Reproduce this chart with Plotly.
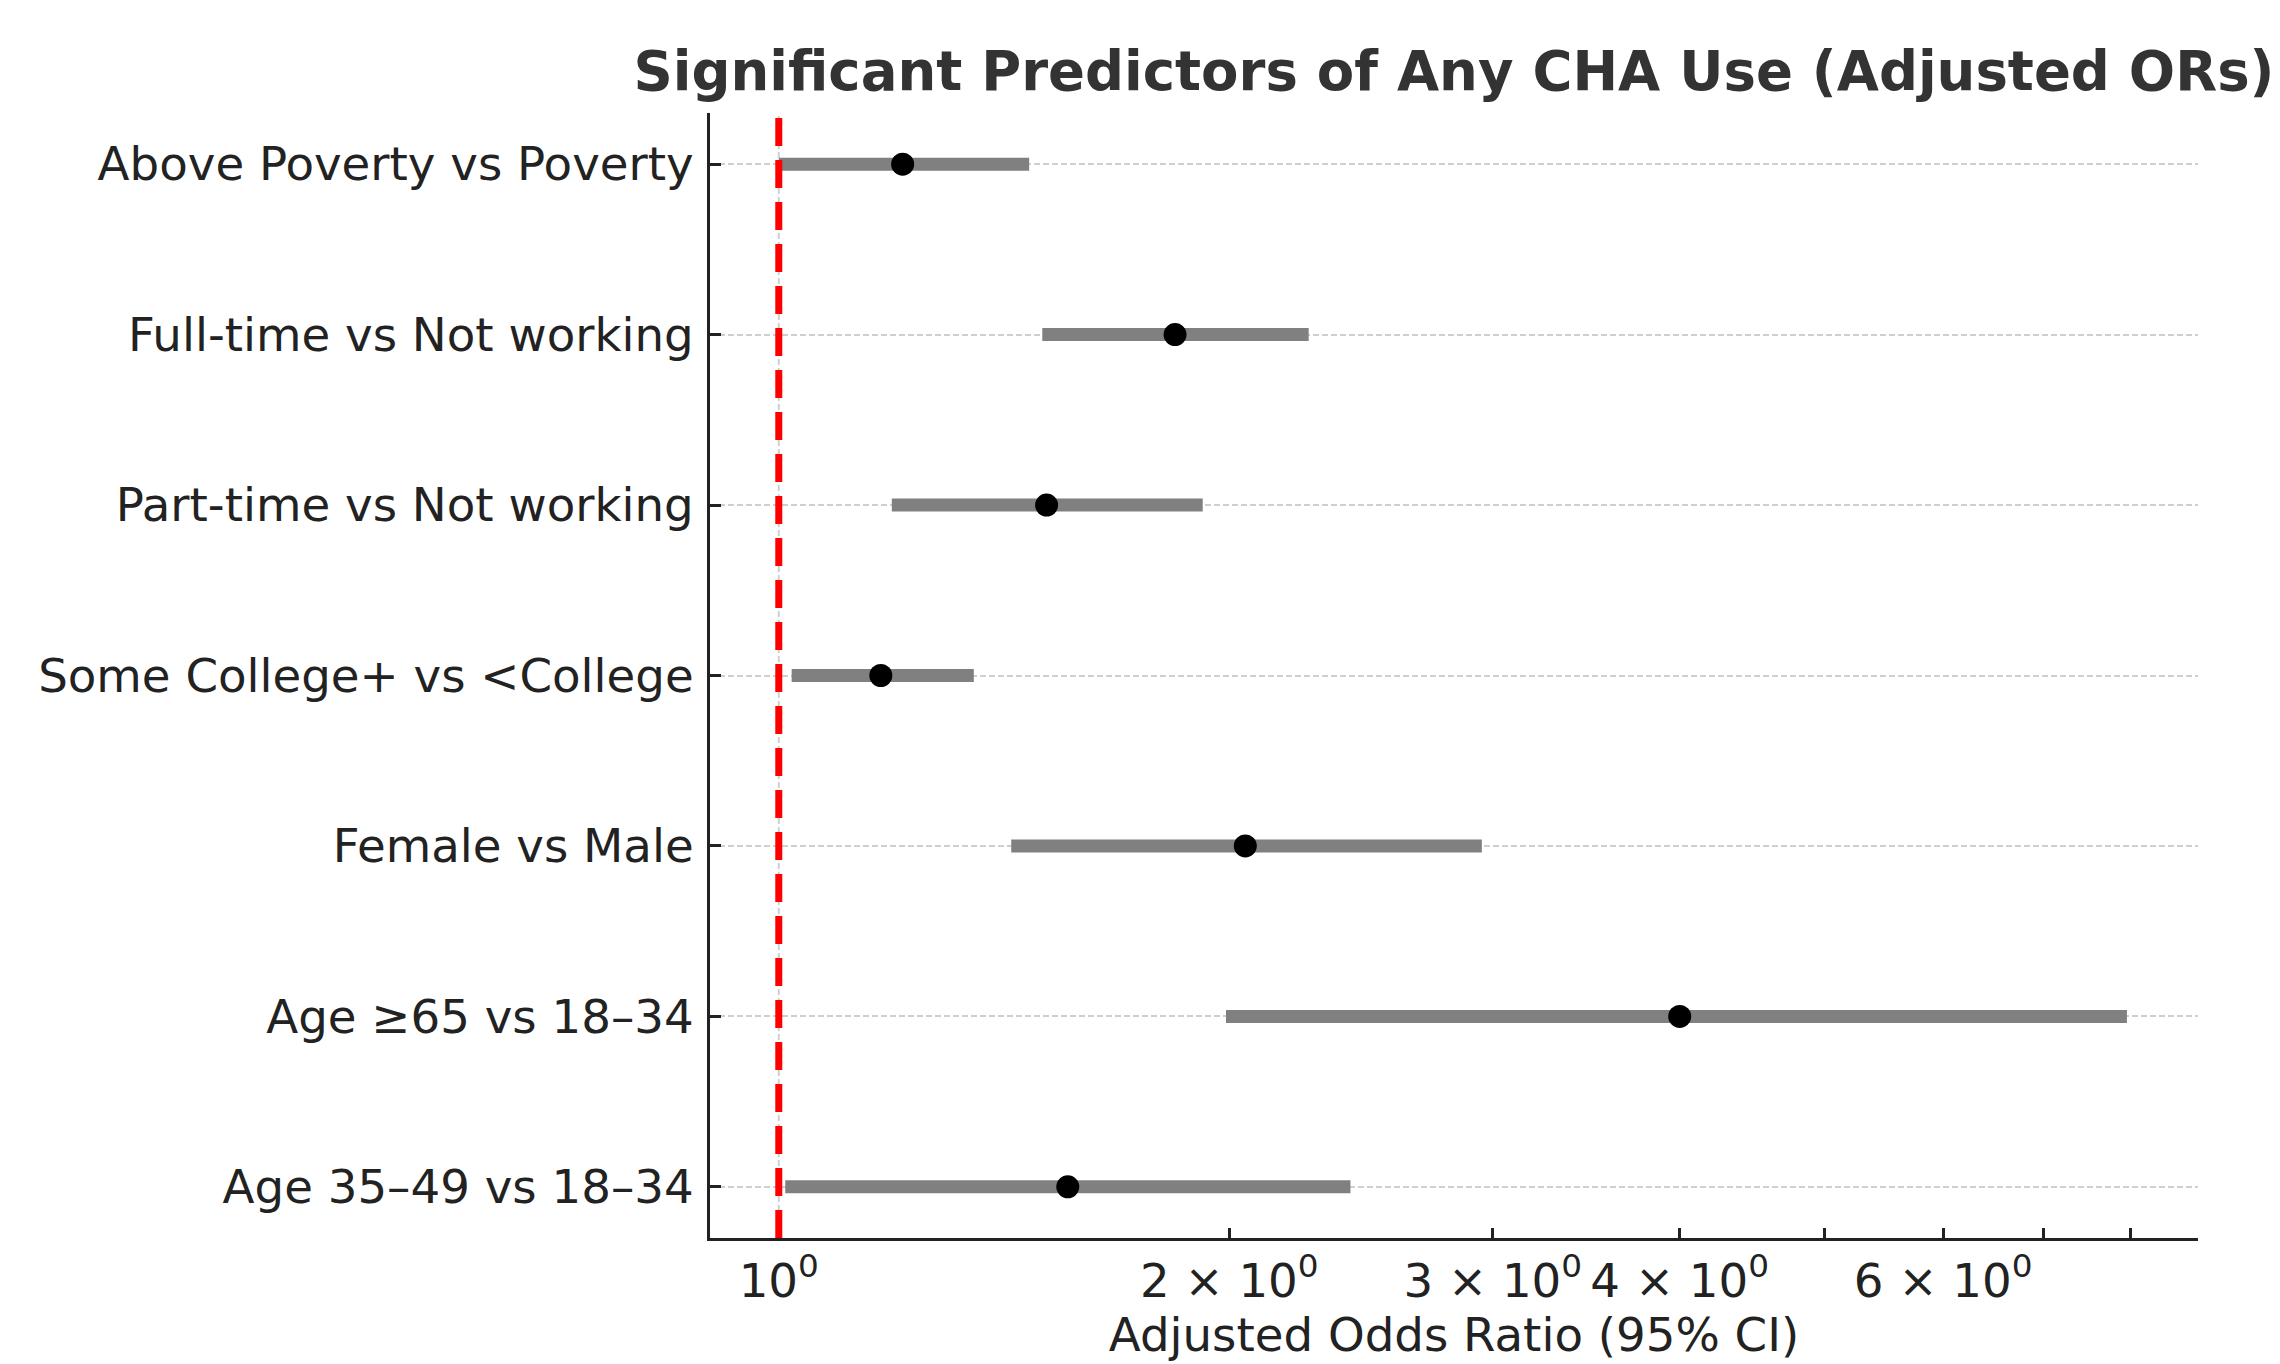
import plotly.graph_objects as go

# Data (bottom to top)
labels = [
    "Age 35–49 vs 18–34",
    "Age ≥65 vs 18–34",
    "Female vs Male",
    "Some College+ vs <College",
    "Part-time vs Not working",
    "Full-time vs Not working",
    "Above Poverty vs Poverty",
]
odds_ratio = [1.56, 4.00, 2.05, 1.17, 1.51, 1.84, 1.21]
ci_low = [1.01, 1.99, 1.43, 1.02, 1.19, 1.50, 1.00]
ci_high = [2.41, 7.96, 2.95, 1.35, 1.92, 2.26, 1.47]

tick_vals = [1, 2, 3, 4, 6]
tick_text = ["10<sup>0</sup>", "2 × 10<sup>0</sup>", "3 × 10<sup>0</sup>",
             "4 × 10<sup>0</sup>", "6 × 10<sup>0</sup>"]
minor_tick_vals = [5, 7, 8]

FONT = "DejaVu Sans"
TXT = "#222222"
FS = 46.7

fig = go.Figure()

# CI bars
bx, by = [], []
for lab, lo, hi in zip(labels, ci_low, ci_high):
    bx += [lo, hi, None]
    by += [lab, lab, None]
fig.add_trace(go.Scatter(
    x=bx, y=by, mode="lines",
    line=dict(color="#808080", width=13),
    showlegend=False, hoverinfo="skip",
))

# Point estimates
fig.add_trace(go.Scatter(
    x=odds_ratio, y=labels, mode="markers",
    marker=dict(color="black", size=23, line=dict(width=0)),
    showlegend=False,
))

# faint vertical grid at the major tick (x = 1)
fig.add_shape(type="line", xref="x", yref="paper", x0=1, x1=1, y0=0, y1=1,
              line=dict(color="#cfcfcf", width=2, dash="6px,3px"), layer="below")
# reference line at OR = 1
fig.add_shape(type="line", xref="x", yref="paper", x0=1, x1=1, y0=0, y1=1,
              line=dict(color="#ff0000", width=7, dash="28px,14px"), layer="above")

# page body has an 8px margin, so the figure is made 8px smaller and shifted
fig.update_layout(
    width=2272, height=1356,
    margin=dict(l=702, r=82, t=105, b=126),
    paper_bgcolor="white", plot_bgcolor="white",
    font=dict(family=FONT, size=FS, color=TXT),
    title=dict(
        text="<b>Significant Predictors of Any CHA Use (Adjusted ORs)</b>",
        font=dict(family=FONT, size=54.5, color="#333333"),
        x=0.5, xref="paper", xanchor="center",
        y=1 - 63 / 1356, yref="container", yanchor="middle",
    ),
    xaxis=dict(
        type="log",
        range=[-0.04596, 0.9484],
        tickmode="array", tickvals=tick_vals, ticktext=tick_text,
        ticks="inside", ticklen=10, tickwidth=2.5, tickcolor=TXT,
        minor=dict(tickmode="array", tickvals=minor_tick_vals, ticks="inside",
                   ticklen=10, tickwidth=2.5, tickcolor=TXT, showgrid=False),
        showline=True, linecolor=TXT, linewidth=3,
        showgrid=False, zeroline=False,
        tickfont=dict(family=FONT, size=FS, color=TXT),
        title=dict(text="Adjusted Odds Ratio (95% CI)",
                   font=dict(family=FONT, size=FS, color=TXT), standoff=10),
    ),
    yaxis=dict(
        type="category",
        categoryorder="array", categoryarray=labels,
        range=[-0.3, 6.3],
        ticks="inside", ticklen=11, tickwidth=2.5, tickcolor=TXT,
        showline=True, linecolor=TXT, linewidth=3,
        showgrid=True, gridcolor="#cfcfcf", gridwidth=2, griddash="6px,3px",
        zeroline=False,
        tickfont=dict(family=FONT, size=FS, color=TXT),
        ticklabelstandoff=4,
    ),
)

fig.write_html("out.html")
